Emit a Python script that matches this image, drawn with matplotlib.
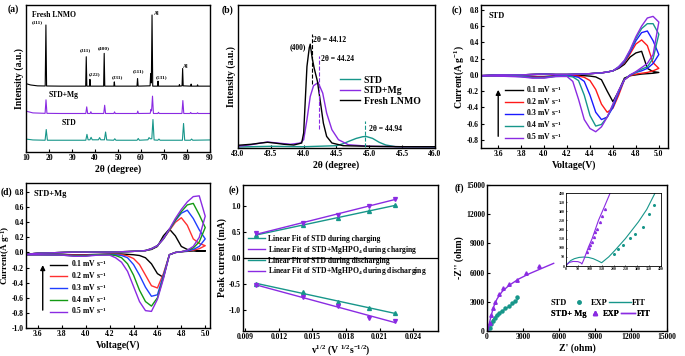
import numpy as np
import matplotlib
matplotlib.use('Agg')
import matplotlib.pyplot as plt
from matplotlib.lines import Line2D
from matplotlib.ticker import MultipleLocator, FormatStrFormatter

# ---------------- data ----------------
# (a) XRD patterns, 2theta (deg) vs intensity (arb., 0-100 axis)
fresh_2theta = [10.0, 12.0, 15.0, 18.35, 18.66, 18.95, 25.0, 30.0, 35.95, 36.2, 36.45,
                37.6, 37.8, 38.0, 43.75, 44.0, 44.25, 48.2, 48.4, 48.6, 58.25, 58.5, 58.75,
                63.95, 64.2, 64.5, 64.8, 65.1, 67.2, 67.4, 67.6, 76.5, 76.7, 76.9,
                77.85, 78.1, 78.35, 81.6, 81.8, 82.0, 84.4, 84.6, 84.8, 90.0]
fresh_int = [46.5, 45.6, 45.0, 44.9, 86.4, 44.9, 44.8, 44.8, 44.8, 64.8, 44.8,
             44.8, 49.4, 44.8, 44.8, 67.1, 44.8, 44.8, 47.7, 44.8, 44.8, 50.0, 44.8,
             45.0, 53.4, 47.0, 93.2, 44.8, 44.8, 48.2, 44.8, 44.8, 45.8, 44.8,
             45.0, 56.8, 45.0, 44.8, 46.2, 44.8, 44.8, 45.7, 44.8, 44.8]
mg_2theta = [10, 13, 18.3, 18.7, 19.1, 25, 36.0, 36.4, 36.8, 37.9, 38.2, 38.5,
             43.8, 44.2, 44.6, 48.2, 48.5, 48.8, 58.3, 58.6, 58.9, 64.0, 64.35, 64.6,
             65.0, 65.4, 67.3, 67.6, 67.9, 77.8, 78.2, 78.6, 81.3, 81.6, 81.9,
             84.3, 84.6, 84.9, 90]
mg_int = [27.8, 26.6, 26.3, 35.5, 26.3, 26.2, 26.2, 30.7, 26.2, 26.2, 27.4, 26.2,
          26.2, 31.8, 26.2, 26.2, 27.3, 26.2, 26.2, 27.8, 26.2, 26.3, 29.0, 28.0,
          38.0, 26.2, 26.2, 27.0, 26.2, 26.2, 35.0, 26.2, 26.2, 26.9, 26.2,
          26.2, 26.7, 26.2, 26.2]
std_2theta = [10, 13, 18.3, 18.8, 19.3, 25, 36.0, 36.5, 37.0, 37.8, 38.3, 38.8,
              41.5, 42.0, 42.5, 44.1, 44.6, 45.1, 48.1, 48.6, 49.1, 58.3, 58.8, 59.3,
              63.0, 63.5, 64.0, 64.7, 65.2, 65.7, 67.3, 67.8, 68.3, 78.0, 78.5, 79.0,
              81.5, 82.0, 82.5, 90]
std_int = [8.8, 8.2, 8.0, 15.3, 8.0, 8.0, 8.0, 12.0, 8.3, 8.3, 10.0, 8.3,
           8.3, 9.8, 8.3, 8.3, 13.6, 8.2, 8.0, 9.0, 8.0, 8.0, 9.2, 8.0,
           8.3, 9.8, 9.0, 9.0, 22.1, 8.2, 8.0, 8.8, 8.0, 8.0, 19.4, 8.0,
           8.0, 8.8, 8.0, 8.2]
hkl_labels = ['(111)', '(311)', '(222)', '(400)', '(331)', '(511)', '(531)']
hkl_x = [14.8, 35.9, 39.8, 44.0, 49.6, 59.1, 69.0]
hkl_y = [86.9, 67.8, 51.3, 69.3, 49.8, 54.0, 49.8]

# (b) zoom on the (400) reflection
fresh_b_x = [43.0, 43.2, 43.35, 43.45, 43.55, 43.7, 43.85, 43.97, 44.0, 44.05, 44.085,
             44.1, 44.13, 44.16, 44.21, 44.25, 44.3, 44.35, 44.43, 44.6, 45.0, 45.5, 46.0]
fresh_b_y = [1.9, 2.6, 3.5, 4.0, 3.5, 2.6, 2.1, 3.5, 10.5, 57.0, 70.0,
             72.6, 62.8, 55.8, 46.5, 33.7, 17.4, 8.1, 3.5, 1.6, 1.2, 0.9, 0.9]
mg_b_x = [43.0, 43.2, 43.35, 43.45, 43.6, 43.8, 43.95, 44.0, 44.05, 44.1, 44.15,
          44.22, 44.29, 44.35, 44.43, 44.53, 44.68, 45.0, 45.5, 46.0]
mg_b_y = [1.2, 2.3, 3.5, 4.2, 3.5, 2.6, 3.5, 5.8, 19.8, 36.0, 43.5,
          45.8, 38.4, 24.4, 12.8, 5.8, 2.3, 1.2, 0.9, 0.9]
std_b_x = [43.0, 43.5, 44.0, 44.5, 44.6, 44.7, 44.8, 44.9, 44.95, 45.05, 45.15, 45.25, 45.4, 46.0]
std_b_y = [0.7, 1.2, 0.9, 1.6, 3.0, 4.9, 6.7, 7.9, 8.1, 6.7, 4.0, 2.1, 0.9, 0.7]
peak_pos = [44.12, 44.24, 44.94]

# (c)/(d) CV loops: anodic and cathodic branch on a common voltage grid
cv_volt = [3.45, 3.6, 3.8, 3.9, 4.0, 4.1, 4.2, 4.25, 4.3, 4.35, 4.4, 4.45, 4.5,
           4.55, 4.6, 4.65, 4.7, 4.75, 4.8, 4.85, 4.9, 4.95, 5.0]
scan_labels = ['0.1 mV s$^{-1}$', '0.2 mV s$^{-1}$', '0.3 mV s$^{-1}$',
               '0.4 mV s$^{-1}$', '0.5 mV s$^{-1}$']
std_anodic = [
    [-0.01, 0.0, 0.0, 0.005, 0.01, 0.005, 0.005, 0.007, 0.01, 0.012, 0.015, 0.02, 0.025, 0.035, 0.05, 0.08, 0.13, 0.22, 0.27, 0.29, 0.08, 0.04, 0.03],
    [-0.01, 0.0, 0.0, 0.005, 0.01, 0.005, 0.005, 0.007, 0.01, 0.012, 0.015, 0.02, 0.025, 0.035, 0.05, 0.09, 0.15, 0.26, 0.38, 0.43, 0.36, 0.15, 0.08],
    [-0.01, 0.0, 0.0, 0.005, 0.01, 0.005, 0.005, 0.007, 0.01, 0.012, 0.015, 0.02, 0.025, 0.035, 0.05, 0.09, 0.16, 0.28, 0.42, 0.52, 0.54, 0.42, 0.25],
    [-0.01, 0.0, 0.0, 0.005, 0.01, 0.005, 0.005, 0.007, 0.01, 0.012, 0.015, 0.02, 0.025, 0.035, 0.05, 0.10, 0.17, 0.30, 0.45, 0.57, 0.63, 0.63, 0.50],
    [-0.01, 0.0, 0.0, 0.005, 0.01, 0.005, 0.005, 0.007, 0.01, 0.012, 0.015, 0.02, 0.025, 0.035, 0.05, 0.10, 0.18, 0.31, 0.47, 0.60, 0.70, 0.72, 0.65],
]
std_cathodic = [
    [-0.01, -0.01, -0.015, -0.02, -0.02, -0.012, -0.01, -0.01, -0.01, -0.01, -0.015, -0.025, -0.06, -0.2, -0.33, -0.2, -0.04, -0.01, 0.0, 0.01, 0.015, 0.02, 0.03],
    [-0.01, -0.01, -0.015, -0.025, -0.025, -0.015, -0.01, -0.01, -0.015, -0.03, -0.07, -0.18, -0.36, -0.46, -0.41, -0.25, -0.06, -0.01, 0.01, 0.02, 0.03, 0.05, 0.08],
    [-0.01, -0.01, -0.02, -0.03, -0.03, -0.015, -0.01, -0.015, -0.03, -0.08, -0.25, -0.46, -0.55, -0.52, -0.4, -0.22, -0.06, -0.005, 0.03, 0.05, 0.08, 0.14, 0.25],
    [-0.01, -0.01, -0.02, -0.035, -0.035, -0.02, -0.015, -0.025, -0.07, -0.25, -0.5, -0.63, -0.61, -0.52, -0.37, -0.2, -0.06, 0.0, 0.03, 0.07, 0.1, 0.2, 0.50],
    [-0.01, -0.015, -0.025, -0.04, -0.04, -0.02, -0.02, -0.08, -0.3, -0.55, -0.66, -0.70, -0.64, -0.52, -0.36, -0.19, -0.06, 0.0, 0.04, 0.09, 0.14, 0.25, 0.65],
]
mg_anodic = [
    [-0.03, -0.01, 0.0, 0.005, 0.005, 0.005, 0.005, 0.007, 0.01, 0.012, 0.015, 0.02, 0.025, 0.04, 0.08, 0.22, 0.31, 0.22, 0.08, 0.04, 0.03, 0.02, 0.02],
    [-0.03, -0.01, 0.0, 0.005, 0.005, 0.005, 0.005, 0.007, 0.01, 0.012, 0.015, 0.02, 0.025, 0.05, 0.09, 0.18, 0.29, 0.40, 0.46, 0.36, 0.18, 0.12, 0.09],
    [-0.03, -0.01, 0.0, 0.005, 0.005, 0.005, 0.005, 0.007, 0.01, 0.012, 0.015, 0.02, 0.025, 0.05, 0.09, 0.18, 0.30, 0.42, 0.52, 0.56, 0.45, 0.30, 0.18],
    [-0.03, -0.01, 0.0, 0.005, 0.005, 0.005, 0.005, 0.007, 0.01, 0.012, 0.015, 0.02, 0.025, 0.05, 0.09, 0.18, 0.30, 0.43, 0.54, 0.63, 0.65, 0.50, 0.33],
    [-0.03, -0.01, 0.0, 0.005, 0.005, 0.005, 0.005, 0.007, 0.01, 0.012, 0.015, 0.02, 0.025, 0.05, 0.09, 0.18, 0.31, 0.45, 0.57, 0.67, 0.74, 0.75, 0.48],
]
mg_cathodic = [
    [-0.03, -0.025, -0.025, -0.03, -0.03, -0.025, -0.02, -0.02, -0.02, -0.025, -0.03, -0.04, -0.07, -0.15, -0.28, -0.33, -0.03, 0.0, 0.01, 0.015, 0.02, 0.02, 0.02],
    [-0.03, -0.03, -0.03, -0.035, -0.035, -0.03, -0.025, -0.025, -0.03, -0.045, -0.08, -0.16, -0.30, -0.44, -0.47, -0.28, -0.03, 0.0, 0.01, 0.02, 0.03, 0.05, 0.09],
    [-0.03, -0.03, -0.035, -0.04, -0.04, -0.03, -0.025, -0.03, -0.04, -0.07, -0.16, -0.30, -0.46, -0.58, -0.56, -0.30, -0.03, 0.0, 0.01, 0.02, 0.04, 0.08, 0.18],
    [-0.03, -0.03, -0.035, -0.045, -0.045, -0.03, -0.03, -0.04, -0.07, -0.15, -0.30, -0.50, -0.65, -0.71, -0.60, -0.33, -0.03, 0.0, 0.01, 0.03, 0.06, 0.14, 0.33],
    [-0.03, -0.03, -0.035, -0.05, -0.05, -0.035, -0.035, -0.07, -0.13, -0.25, -0.45, -0.65, -0.77, -0.78, -0.62, -0.35, -0.03, 0.0, 0.01, 0.03, 0.08, 0.20, 0.48],
]

# (e) peak current vs square root of scan rate
sqrt_rate = [0.01, 0.01414, 0.01732, 0.02, 0.02236]
ipa_std = [0.44, 0.64, 0.77, 0.90, 1.01]
ipa_mg = [0.47, 0.67, 0.83, 0.99, 1.14]
ipc_std = [-0.49, -0.66, -0.85, -0.96, -1.05]
ipc_mg = [-0.52, -0.75, -0.93, -1.15, -1.21]

# (f) Nyquist plots (ohm)
std_exp_re = [222, 333, 472, 639, 833, 1028, 1250, 1528, 1806, 2083, 2306, 2500]
std_exp_im = [274, 685, 1062, 1370, 1644, 1849, 2055, 2329, 2603, 2842, 3116, 3493]
std_fit_re = [139, 278, 472, 750, 1111, 1528, 1944, 2361, 2639]
std_fit_im = [0, 616, 1130, 1575, 1918, 2260, 2603, 3014, 3356]
mg_exp_re = [222, 361, 500, 694, 972, 1333, 1806, 2500, 3250, 4306]
mg_exp_im = [856, 1644, 2329, 3014, 3801, 4384, 4829, 5240, 5925, 6678]
mg_fit_re = [83, 194, 361, 556, 833, 1250, 1806, 2639, 3472, 4444, 5556]
mg_fit_im = [0, 788, 1644, 2500, 3288, 4041, 4658, 5342, 5856, 6370, 6952]
# inset, high-frequency region
std_fit_in_re = [0, 8, 20, 35, 55, 75, 95, 115, 135, 150, 180, 207, 250, 305, 340, 375]
std_fit_in_im = [0, 15, 30, 40, 47, 49, 47, 40, 28, 18, 50, 87, 150, 242, 310, 400]
std_exp_in_re = [200, 221, 242, 270, 291, 326, 351, 372]
std_exp_in_im = [65, 91, 115, 151, 175, 215, 287, 333]
mg_fit_in_re = [0, 5, 15, 30, 50, 62, 67, 75, 95, 110, 137, 160, 186]
mg_fit_in_im = [0, 10, 20, 25, 24, 18, 11, 35, 105, 150, 251, 320, 400]
mg_exp_in_re = [88, 95, 102, 109, 116, 123, 130, 144, 151, 165]
mg_exp_in_im = [78, 96, 115, 133, 160, 187, 205, 242, 273, 315]

TEAL = '#17968A'
PURPLE = '#8A2BE2'
cv_colors_c = ['black', '#FF1A1A', '#1A1AFF', TEAL, PURPLE]
cv_colors_d = ['black', '#FF3030', '#1F3FFF', '#139A13', PURPLE]

# ---------------- style ----------------
plt.rcParams['font.family'] = ['Liberation Serif', 'DejaVu Serif']
plt.rcParams['font.weight'] = 'bold'
plt.rcParams['axes.labelweight'] = 'bold'
plt.rcParams['mathtext.default'] = 'regular'
plt.rcParams['axes.unicode_minus'] = False
plt.rcParams['axes.linewidth'] = 1.0
plt.rcParams['xtick.direction'] = 'in'
plt.rcParams['ytick.direction'] = 'in'
plt.rcParams['xtick.labelsize'] = 5.5
plt.rcParams['ytick.labelsize'] = 5.5
plt.rcParams['xtick.major.size'] = 2.5
plt.rcParams['ytick.major.size'] = 2.5
plt.rcParams['xtick.major.pad'] = 1.5
plt.rcParams['ytick.major.pad'] = 1.5
plt.rcParams['axes.labelsize'] = 7
plt.rcParams['axes.labelpad'] = 1.5

W, H = 685, 356
fig = plt.figure(figsize=(W / 100, H / 100), dpi=100)


def px_axes(x0, y0, x1, y1):
    return fig.add_axes([x0 / W, 1 - y1 / H, (x1 - x0) / W, (y1 - y0) / H])


ax_a = px_axes(26, 5, 210, 152)
ax_b = px_axes(238, 5, 435, 148)
ax_c = px_axes(481, 5, 668, 148)
ax_d = px_axes(26, 183, 210, 328)
ax_e = px_axes(243, 185, 438, 331)
ax_f = px_axes(487, 185, 667, 331)
ax_in = px_axes(566, 193, 661, 266)

# ---------------- (a) ----------------
ax_a.plot(fresh_2theta, fresh_int, color='black', lw=0.8)
ax_a.plot(mg_2theta, mg_int, color=PURPLE, lw=0.8)
ax_a.plot(std_2theta, std_int, color=TEAL, lw=0.8)
ax_a.set_xlim(10, 90)
ax_a.set_ylim(0, 100)
ax_a.set_yticks([])
ax_a.xaxis.set_major_locator(MultipleLocator(10))
ax_a.set_xlabel('2θ (degree)')
ax_a.set_ylabel('Intensity (a.u.)')
for lab, hx, hy in zip(hkl_labels, hkl_x, hkl_y):
    ax_a.text(hx, hy, lab, fontsize=3.8, ha='center', va='bottom')
ax_a.text(65.6, 94, 'Al', fontsize=4, ha='left', va='center')
ax_a.text(78.4, 58.5, 'Al', fontsize=4, ha='left', va='center')
ax_a.text(12.5, 93.5, 'Fresh LNMO', fontsize=5.5, ha='left', va='center')
ax_a.text(20.0, 38.5, 'STD+Mg', fontsize=5.5, ha='left', va='center')
ax_a.text(25.4, 19.5, 'STD', fontsize=5.5, ha='left', va='center')

# ---------------- (b) ----------------
ax_b.plot(std_b_x, std_b_y, color=TEAL, lw=1.0, label='STD')
ax_b.plot(mg_b_x, mg_b_y, color=PURPLE, lw=1.0, label='STD+Mg')
ax_b.plot(fresh_b_x, fresh_b_y, color='black', lw=1.0, label='Fresh LNMO')
ax_b.vlines(peak_pos[0], 45, 80, colors='black', linestyles='--', lw=0.8)
ax_b.vlines(peak_pos[1], 13, 64, colors=PURPLE, linestyles='--', lw=0.8)
ax_b.vlines(peak_pos[2], 1, 19, colors=TEAL, linestyles='--', lw=0.8)
ax_b.text(peak_pos[0] + 0.02, 75.6, '2θ = %.2f' % peak_pos[0], fontsize=5.5, va='center')
ax_b.text(peak_pos[1] + 0.03, 62.1, '2θ = %.2f' % peak_pos[1], fontsize=5.5, va='center')
ax_b.text(peak_pos[2] + 0.05, 13.3, '2θ = %.2f' % peak_pos[2], fontsize=5.5, va='center')
ax_b.text(44.03, 70.2, '(400)', fontsize=5.5, ha='right', va='center')
ax_b.set_xlim(43.0, 46.0)
ax_b.set_ylim(0, 100)
ax_b.set_yticks([])
ax_b.xaxis.set_major_locator(MultipleLocator(0.5))
ax_b.xaxis.set_major_formatter(FormatStrFormatter('%.1f'))
ax_b.set_xlabel('2θ (degree)')
ax_b.set_ylabel('Intensity (a.u.)')
ax_b.legend(loc='center left', bbox_to_anchor=(0.52, 0.40), frameon=False, fontsize=7,
            handlelength=2.0, handletextpad=0.4, labelspacing=0.15, borderpad=0,
            borderaxespad=0)


# ---------------- (c) and (d) ----------------
def draw_cv(ax, anodic, cathodic, colors):
    v = np.array(cv_volt)
    for an, ca, col, lab in zip(anodic, cathodic, colors, scan_labels):
        vv = np.concatenate([v, v[::-1]])
        ii = np.concatenate([an, ca[::-1]])
        ax.plot(vv, ii, color=col, lw=1.0, label=lab)
    ax.xaxis.set_major_locator(MultipleLocator(0.2))
    ax.yaxis.set_major_locator(MultipleLocator(0.2))
    ax.xaxis.set_major_formatter(FormatStrFormatter('%.1f'))
    ax.yaxis.set_major_formatter(FormatStrFormatter('%.1f'))
    ax.set_xlabel('Voltage(V)')
    ax.set_ylabel('Current(A g$^{-1}$)', labelpad=0.5)


draw_cv(ax_c, std_anodic, std_cathodic, cv_colors_c)
ax_c.set_xlim(3.45, 5.08)
ax_c.set_ylim(-0.9, 0.86)
ax_c.text(0.04, 0.95, 'STD', transform=ax_c.transAxes, fontsize=6, va='top')
ax_c.legend(loc='lower left', bbox_to_anchor=(0.13, 0.04), frameon=False, fontsize=5.5,
            handlelength=2.3, handletextpad=0.4, labelspacing=0.12, borderpad=0,
            borderaxespad=0)
ax_c.annotate('', xy=(3.6, -0.15), xytext=(3.6, -0.79),
              arrowprops=dict(arrowstyle='-|>', color='black', lw=1.0, mutation_scale=7))

draw_cv(ax_d, mg_anodic, mg_cathodic, cv_colors_d)
ax_d.set_xlim(3.5, 5.04)
ax_d.set_ylim(-1.0, 0.92)
ax_d.set_ylabel('Current(A g$^{-1}$)', fontsize=6.5)
ax_d.yaxis.set_label_coords(-0.075, 0.5)
ax_d.text(0.04, 0.95, 'STD+Mg', transform=ax_d.transAxes, fontsize=6, va='top')
ax_d.legend(loc='lower left', bbox_to_anchor=(0.13, 0.08), frameon=False, fontsize=5.5,
            handlelength=2.3, handletextpad=0.4, labelspacing=0.1, borderpad=0,
            borderaxespad=0)
ax_d.annotate('', xy=(3.64, -0.13), xytext=(3.64, -0.80),
              arrowprops=dict(arrowstyle='-|>', color='black', lw=1.0, mutation_scale=7))

# ---------------- (e) ----------------
xs = np.array(sqrt_rate)
fit_sets = [
    (ipa_std, TEAL, '^', 'Linear Fit of STD during charging'),
    (ipa_mg, PURPLE, 'v', 'Linear Fit of STD+MgHPO$_4$ during charging'),
    (ipc_std, TEAL, '^', 'Linear Fit of STD during discharging'),
    (ipc_mg, PURPLE, 'v', 'Linear Fit of STD+MgHPO$_4$ during discharging'),
]
for ys, col, mk, lab in fit_sets:
    ax_e.plot(xs, ys, linestyle='none', marker=mk, color=col, ms=2.8)
    k, b = np.polyfit(xs, ys, 1)
    ax_e.plot(xs, k * xs + b, color=col, lw=1.0, label=lab)
ax_e.axhline(0, color='black', lw=0.9)
ax_e.set_xlim(0.0088, 0.0262)
ax_e.set_ylim(-1.4, 1.4)
ax_e.xaxis.set_major_locator(MultipleLocator(0.003))
ax_e.xaxis.set_major_formatter(FormatStrFormatter('%.3f'))
ax_e.yaxis.set_major_locator(MultipleLocator(0.5))
ax_e.yaxis.set_major_formatter(FormatStrFormatter('%.1f'))
ax_e.set_xlabel('v$^{1/2}$ (V $^{1/2}$s$^{-1/2}$)')
ax_e.set_ylabel('Peak current (mA)')
ax_e.legend(loc='center left', bbox_to_anchor=(0.025, 0.513), frameon=False, fontsize=5.5,
            handlelength=2.3, handletextpad=0.3, labelspacing=0.12, borderpad=0,
            borderaxespad=0)

# ---------------- (f) ----------------
ax_f.plot(std_exp_re, std_exp_im, linestyle='none', marker='o', color=TEAL, ms=2.2)
ax_f.plot(std_fit_re, std_fit_im, color=TEAL, lw=1.0)
ax_f.plot(mg_exp_re, mg_exp_im, linestyle='none', marker='^', color=PURPLE, ms=2.5)
ax_f.plot(mg_fit_re, mg_fit_im, color=PURPLE, lw=1.0)
ax_f.set_xlim(0, 15000)
ax_f.set_ylim(0, 15000)
ax_f.xaxis.set_major_locator(MultipleLocator(3000))
ax_f.yaxis.set_major_locator(MultipleLocator(3000))
ax_f.set_xlabel("Z' (ohm)")
ax_f.set_ylabel("-Z'' (ohm)")

blank = Line2D([], [], linestyle='none')
rows = [
    ('STD', Line2D([], [], linestyle='none', marker='o', color=TEAL, ms=2.5),
     Line2D([], [], color=TEAL, lw=1.0), 2.6, 0.195),
    ('STD+ Mg', Line2D([], [], linestyle='none', marker='^', color=PURPLE, ms=3),
     Line2D([], [], color=PURPLE, lw=1.0), 1.7, 0.115),
]
for name, mk, ln, hl, yy in rows:
    leg = ax_f.legend([mk, ln, blank], [name, 'EXP', 'FIT'], ncol=3, markerfirst=False,
                      loc='center left', bbox_to_anchor=(0.355, yy), frameon=False,
                      fontsize=6, handlelength=hl, handletextpad=0.15, columnspacing=0.15,
                      borderpad=0, borderaxespad=0)
    ax_f.add_artist(leg)

ax_in.plot(std_fit_in_re, std_fit_in_im, color=TEAL, lw=0.8)
ax_in.plot(std_exp_in_re, std_exp_in_im, linestyle='none', marker='o', color=TEAL, ms=1.2)
ax_in.plot(mg_fit_in_re, mg_fit_in_im, color=PURPLE, lw=0.8)
ax_in.plot(mg_exp_in_re, mg_exp_in_im, linestyle='none', marker='^', color=PURPLE, ms=1.4)
ax_in.set_xlim(0, 400)
ax_in.set_ylim(0, 400)
ax_in.xaxis.set_major_locator(MultipleLocator(50))
ax_in.yaxis.set_major_locator(MultipleLocator(50))
ax_in.tick_params(labelsize=2.8, length=1, width=0.5, pad=0.8)
for sp in ax_in.spines.values():
    sp.set_linewidth(0.6)

# ---------------- panel letters ----------------
for lab, px, py in [('(a)', 8, 9), ('(b)', 222, 10), ('(c)', 452, 10),
                    ('(d)', 1, 192), ('(e)', 229, 190), ('(f)', 455, 188)]:
    fig.text(px / W, 1 - py / H, lab, fontsize=7, ha='left', va='center')

fig.savefig('out.png', dpi=100)
